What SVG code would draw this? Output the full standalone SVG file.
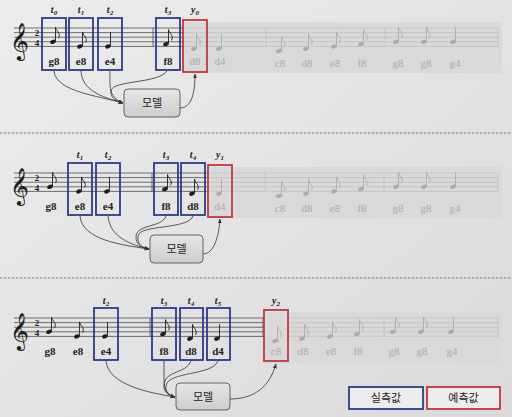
<svg xmlns="http://www.w3.org/2000/svg" xmlns:xlink="http://www.w3.org/1999/xlink" width="512" height="417" viewBox="0 0 512 417">
<style>
.st{stroke:#3a3a3a;stroke-width:0.7}
.sf{stroke:#bdbdbd;stroke-width:0.7}
.band{fill:#d9d9d9}
.ib{fill:none;stroke:#2d3a8c;stroke-width:1.8}
.rb{fill:none;stroke:#c4373a;stroke-width:1.8}
.lb{font-family:"Liberation Serif",serif;font-size:11px;font-weight:bold;fill:#222;text-anchor:middle}
.lf{font-family:"Liberation Serif",serif;font-size:11px;fill:#a9a9a9;text-anchor:middle}
.tl{font-family:"Liberation Serif",serif;font-size:10px;font-style:italic;font-weight:bold;fill:#222;text-anchor:middle}
.md{fill:url(#mg);stroke:#555;stroke-width:0.9}
.mt{font-family:"Noto Sans CJK KR",sans-serif;font-size:11px;fill:#222;text-anchor:middle}
.nd{fill:#1e1e1e;stroke:#1e1e1e}
.nf{fill:#ababab;stroke:#ababab}
.cn{fill:none;stroke:#333;stroke-width:0.8;marker-end:url(#ah)}
.sep{stroke:#777;stroke-width:0.9;stroke-dasharray:2.5 1.5}
.clef{font-family:"DejaVu Sans",sans-serif;font-size:32px;fill:#1e1e1e}
.ts{font-family:"Liberation Serif",serif;font-size:9px;font-weight:bold;fill:#1e1e1e;text-anchor:middle}
</style>
<defs>
<linearGradient id="bg" x1="0" y1="0" x2="1" y2="1"><stop offset="0" stop-color="#ececec"/><stop offset="1" stop-color="#dadada"/></linearGradient>
<linearGradient id="mg" x1="0" y1="0" x2="0" y2="1"><stop offset="0" stop-color="#e6e6e6"/><stop offset="1" stop-color="#cdcdcd"/></linearGradient>
<marker id="ah" viewBox="0 0 10 10" refX="9" refY="5" markerWidth="6" markerHeight="6" orient="auto"><path d="M0,1 L10,5 L0,9 z" fill="#333"/></marker>
<g id="n8"><ellipse rx="2.9" ry="2" transform="rotate(-22)" stroke="none"/><path d="M2.5,-0.6V-14.5" fill="none" stroke-width="0.9"/><path d="M2.5,-14.5c0.4,3.2 3.6,4.6 3.8,7.6c0.1,1.3 -0.3,2.4 -0.8,3.2" fill="none" stroke-width="0.9"/></g>
<g id="n4"><ellipse rx="2.9" ry="2" transform="rotate(-22)" stroke="none"/><path d="M2.5,-0.6V-14.5" fill="none" stroke-width="0.9"/></g>
</defs>
<rect width="512" height="417" fill="url(#bg)"/>
<line class="sep" x1="0" y1="133" x2="512" y2="133"/>
<line class="sep" x1="0" y1="278" x2="512" y2="278"/>

<!-- Panel 1 staff -->
<g id="staff1">
<rect class="band" x="183" y="22" width="319" height="51"/>
<path class="st" d="M14,28H183M14,32.6H183M14,37.2H183M14,41.8H183M14,46.4H183M153,28V46.4"/>
<path class="sf" d="M183,28H498M183,32.6H498M183,37.2H498M183,41.8H498M183,46.4H498M266,28V46.4M385,28V46.4M498,28V46.4"/>
<text class="clef" x="10" y="52">𝄞</text>
<text class="ts" x="37" y="36.1">2</text><text class="ts" x="37" y="46.2">4</text>
<use href="#n8" x="53" y="41.8" class="nd"/>
<use href="#n8" x="80" y="46.4" class="nd"/>
<use href="#n4" x="108" y="46.4" class="nd"/>
<use href="#n8" x="166" y="44.1" class="nd"/>
<use href="#n8" x="194" y="48.7" class="nf"/>
<use href="#n4" x="219" y="48.7" class="nf"/>
<line class="sf" x1="274" y1="51" x2="284" y2="51"/>
<use href="#n8" x="279" y="51" class="nf"/>
<use href="#n8" x="306" y="48.7" class="nf"/>
<use href="#n8" x="334" y="46.4" class="nf"/>
<use href="#n8" x="361" y="44.1" class="nf"/>
<use href="#n8" x="396" y="41.8" class="nf"/>
<use href="#n8" x="424" y="41.8" class="nf"/>
<use href="#n4" x="453" y="41.8" class="nf"/>
<text class="lf" x="220" y="65">d4</text>
<text class="lf" x="280" y="67">c8</text><text class="lf" x="307" y="67">d8</text><text class="lf" x="335" y="67">e8</text><text class="lf" x="362" y="67">f8</text>
<text class="lf" x="398" y="67">g8</text><text class="lf" x="426" y="67">g8</text><text class="lf" x="455" y="67">g4</text>
</g>
<g id="p1_t0"><rect class="ib" x="42" y="18" width="24" height="52"/><text class="tl" x="54" y="13">t<tspan font-size="7" dy="2">0</tspan></text><text class="lb" x="54" y="65">g8</text></g>
<g id="p1_t1"><rect class="ib" x="69" y="18" width="24" height="52"/><text class="tl" x="81" y="13">t<tspan font-size="7" dy="2">1</tspan></text><text class="lb" x="81" y="65">e8</text></g>
<g id="p1_t2"><rect class="ib" x="98" y="18" width="24" height="52"/><text class="tl" x="110" y="13">t<tspan font-size="7" dy="2">2</tspan></text><text class="lb" x="110" y="65">e4</text></g>
<g id="p1_t3"><rect class="ib" x="156" y="18" width="24" height="52"/><text class="tl" x="168" y="13">t<tspan font-size="7" dy="2">3</tspan></text><text class="lb" x="168" y="65">f8</text></g>
<g id="p1_y0"><rect class="rb" x="183" y="20" width="24" height="52"/><text class="tl" x="195" y="13">y<tspan font-size="7" dy="2">0</tspan></text><text class="lf" x="195" y="65">d8</text></g>
<g id="p1_model"><rect class="md" x="124" y="89" width="56" height="28" rx="4"/><text class="mt" x="152" y="107">모델</text></g>

<!-- Panel 2 staff -->
<g id="staff2">
<rect class="band" x="208" y="167" width="294" height="51"/>
<path class="st" d="M14,173H208M14,177.6H208M14,182.2H208M14,186.8H208M14,191.4H208M152,173V191.4"/>
<path class="sf" d="M208,173H498M208,177.6H498M208,182.2H498M208,186.8H498M208,191.4H498M265,173V191.4M384,173V191.4M498,173V191.4"/>
<text class="clef" x="10" y="197">𝄞</text>
<text class="ts" x="37" y="181.1">2</text><text class="ts" x="37" y="191.2">4</text>
<use href="#n8" x="50" y="186.8" class="nd"/>
<text class="lb" x="51" y="210">g8</text>
<use href="#n8" x="79" y="191.4" class="nd"/>
<use href="#n4" x="107" y="191.4" class="nd"/>
<use href="#n8" x="165" y="189.1" class="nd"/>
<use href="#n8" x="192" y="193.7" class="nd"/>
<use href="#n4" x="219" y="193.7" class="nf"/>
<line class="sf" x1="274" y1="196" x2="284" y2="196"/>
<use href="#n8" x="279" y="196" class="nf"/>
<use href="#n8" x="306" y="193.7" class="nf"/>
<use href="#n8" x="334" y="191.4" class="nf"/>
<use href="#n8" x="361" y="189.1" class="nf"/>
<use href="#n8" x="396" y="186.8" class="nf"/>
<use href="#n8" x="424" y="186.8" class="nf"/>
<use href="#n4" x="453" y="186.8" class="nf"/>
<text class="lf" x="280" y="212">c8</text><text class="lf" x="307" y="212">d8</text><text class="lf" x="335" y="212">e8</text><text class="lf" x="362" y="212">f8</text>
<text class="lf" x="398" y="212">g8</text><text class="lf" x="426" y="212">g8</text><text class="lf" x="455" y="212">g4</text>
</g>
<g id="p2_t1"><rect class="ib" x="68" y="163" width="24" height="52"/><text class="tl" x="80" y="158">t<tspan font-size="7" dy="2">1</tspan></text><text class="lb" x="80" y="210">e8</text></g>
<g id="p2_t2"><rect class="ib" x="96" y="163" width="24" height="52"/><text class="tl" x="108" y="158">t<tspan font-size="7" dy="2">2</tspan></text><text class="lb" x="108" y="210">e4</text></g>
<g id="p2_t3"><rect class="ib" x="154" y="163" width="24" height="52"/><text class="tl" x="166" y="158">t<tspan font-size="7" dy="2">3</tspan></text><text class="lb" x="166" y="210">f8</text></g>
<g id="p2_t4"><rect class="ib" x="181" y="163" width="24" height="52"/><text class="tl" x="193" y="158">t<tspan font-size="7" dy="2">4</tspan></text><text class="lb" x="193" y="210">d8</text></g>
<g id="p2_y1"><rect class="rb" x="208" y="165" width="24" height="52"/><text class="tl" x="220" y="158">y<tspan font-size="7" dy="2">1</tspan></text><text class="lf" x="220" y="210">d4</text></g>
<g id="p2_model"><rect class="md" x="150" y="235" width="53" height="28" rx="4"/><text class="mt" x="176.5" y="253">모델</text></g>

<!-- Panel 3 staff -->
<g id="staff3">
<rect class="band" x="264" y="312" width="238" height="51"/>
<path class="st" d="M14,318H264M14,322.6H264M14,327.2H264M14,331.8H264M14,336.4H264M150,318V336.4M263,318V336.4"/>
<path class="sf" d="M288,318H498M288,322.6H498M288,327.2H498M288,331.8H498M288,336.4H498M384,318V336.4M498,318V336.4"/>
<text class="clef" x="10" y="342">𝄞</text>
<text class="ts" x="37" y="326.1">2</text><text class="ts" x="37" y="336.2">4</text>
<use href="#n8" x="49" y="331.8" class="nd"/>
<text class="lb" x="50" y="355">g8</text>
<use href="#n8" x="77" y="336.4" class="nd"/>
<text class="lb" x="78" y="355">e8</text>
<use href="#n4" x="105" y="336.4" class="nd"/>
<use href="#n8" x="163" y="334.1" class="nd"/>
<use href="#n8" x="190" y="338.7" class="nd"/>
<use href="#n4" x="217" y="338.7" class="nd"/>
<line class="sf" x1="270" y1="341" x2="280" y2="341"/>
<use href="#n8" x="275" y="341" class="nf"/>
<use href="#n8" x="302" y="338.7" class="nf"/>
<use href="#n8" x="330" y="336.4" class="nf"/>
<use href="#n8" x="357" y="334.1" class="nf"/>
<use href="#n8" x="393" y="331.8" class="nf"/>
<use href="#n8" x="421" y="331.8" class="nf"/>
<use href="#n4" x="451" y="331.8" class="nf"/>
<text class="lf" x="303" y="355">d8</text><text class="lf" x="331" y="355">e8</text><text class="lf" x="358" y="355">f8</text>
<text class="lf" x="394" y="355">g8</text><text class="lf" x="422" y="355">g8</text><text class="lf" x="452" y="355">g4</text>
</g>
<g id="p3_t2"><rect class="ib" x="94" y="308" width="24" height="52"/><text class="tl" x="106" y="304">t<tspan font-size="7" dy="2">2</tspan></text><text class="lb" x="106" y="355">e4</text></g>
<g id="p3_t3"><rect class="ib" x="152" y="308" width="24" height="52"/><text class="tl" x="164" y="304">t<tspan font-size="7" dy="2">3</tspan></text><text class="lb" x="164" y="355">f8</text></g>
<g id="p3_t4"><rect class="ib" x="180" y="308" width="23" height="52"/><text class="tl" x="191" y="304">t<tspan font-size="7" dy="2">4</tspan></text><text class="lb" x="191" y="355">d8</text></g>
<g id="p3_t5"><rect class="ib" x="207" y="308" width="23" height="52"/><text class="tl" x="218" y="304">t<tspan font-size="7" dy="2">5</tspan></text><text class="lb" x="218" y="355">d4</text></g>
<g id="p3_y2"><rect class="rb" x="264" y="310" width="24" height="51"/><text class="tl" x="276" y="304">y<tspan font-size="7" dy="2">2</tspan></text><text class="lf" x="276" y="355">c8</text></g>
<g id="p3_model"><rect class="md" x="176" y="383" width="54" height="27" rx="4"/><text class="mt" x="203" y="400.5">모델</text></g>

<!-- Legend -->
<g id="legend_actual"><rect x="349" y="387" width="74" height="22" fill="#ececec" stroke="#2d3a8c" stroke-width="1.8"/><text class="mt" x="386" y="402">실측값</text></g>
<g id="legend_pred"><rect x="427" y="387" width="73" height="22" fill="#ececec" stroke="#c4373a" stroke-width="1.8"/><text class="mt" x="463.5" y="402">예측값</text></g>

<!-- Connectors -->
<g id="connectors">
<path class="cn" d="M54,71C56,92 100,96 123,103"/>
<path class="cn" d="M81,71C82,92 106,98 123,103"/>
<path class="cn" d="M110,71C110,86 108,97 123,103"/>
<path class="cn" d="M167,71C158,84 112,80 111,91C110,98 116,101 123,103"/>
<path class="cn" d="M180,108C192,108 195,92 195,74"/>

<path class="cn" d="M80,216C82,240 122,245 149,249"/>
<path class="cn" d="M108,216C110,238 132,245 149,249"/>
<path class="cn" d="M166,216C162,228 136,224 136,237C136,245 142,248 149,249"/>
<path class="cn" d="M193,216C188,230 140,224 138,236C137,245 143,248 149,249"/>
<path class="cn" d="M203,254C214,254 219,236 220,219"/>

<path class="cn" d="M106,361C108,385 150,393 175,397"/>
<path class="cn" d="M164,361V380C164,390 168,395 175,397"/>
<path class="cn" d="M191,361C186,374 166,370 164,384C163,392 168,395 175,397"/>
<path class="cn" d="M218,361C212,376 168,371 166,386C165,393 169,396 175,397"/>
<path class="cn" d="M230,399C256,399 270,385 276,364"/>
</g>
</svg>
